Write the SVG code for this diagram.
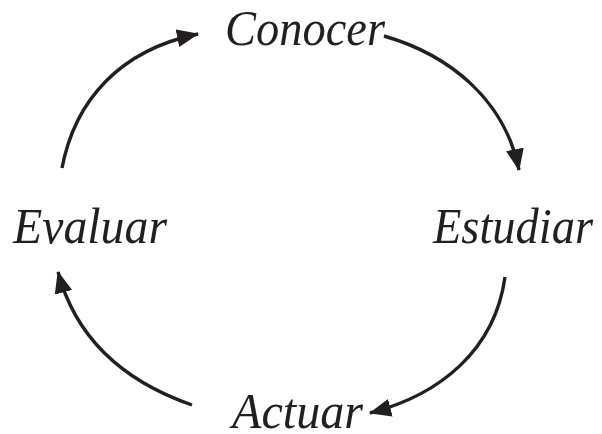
<svg xmlns="http://www.w3.org/2000/svg" width="602" height="434" viewBox="0 0 602 434">
<style>
.lbl{font-family:"Liberation Serif","Times New Roman",serif;font-style:italic;font-size:50px;fill:#231f20}
.arc{fill:none;stroke:#231f20;stroke-width:3.4;marker-end:url(#ah)}
</style>
<defs>
<marker id="ah" markerUnits="userSpaceOnUse" markerWidth="24" markerHeight="20" refX="21" refY="9" orient="auto" viewBox="0 0 24 20">
<path d="M0,0 L22,9 L0,18 z" fill="#231f20"/>
</marker>
</defs>
<rect width="602" height="434" fill="#fff"/>
<g id="connectors">
<path class="arc" d="M62,168 C75,100 120,50 198,34"/>
<path class="arc" d="M384,36 C450,55 505,100 519,170"/>
<path class="arc" d="M505,277 C495,350 440,395 370,413"/>
<path class="arc" d="M192,405 C120,380 75,335 58,272"/>
</g>
<g id="conocer"><text class="lbl" x="225" y="45" textLength="160" lengthAdjust="spacingAndGlyphs">Conocer</text></g>
<g id="estudiar"><text class="lbl" x="433" y="243" textLength="160" lengthAdjust="spacingAndGlyphs">Estudiar</text></g>
<g id="actuar"><text class="lbl" x="232" y="428" textLength="131" lengthAdjust="spacingAndGlyphs">Actuar</text></g>
<g id="evaluar"><text class="lbl" x="13" y="243" textLength="154" lengthAdjust="spacingAndGlyphs">Evaluar</text></g>
</svg>
